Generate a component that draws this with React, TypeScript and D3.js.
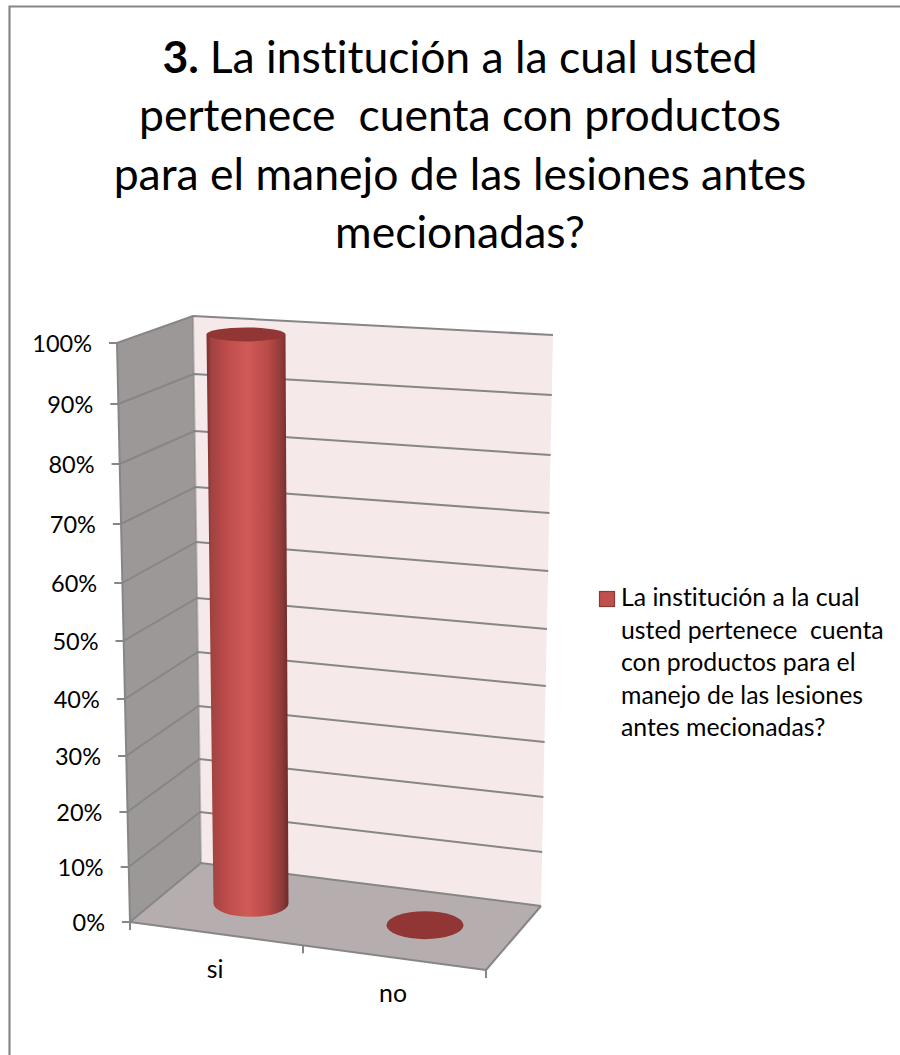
import React from "react";
import * as d3 from "d3";

const categories = ["si", "no"];
const shareValues = [100, 0];
const tickValues = [0, 10, 20, 30, 40, 50, 60, 70, 80, 90, 100];
const tickLabels = ["0%", "10%", "20%", "30%", "40%", "50%", "60%", "70%", "80%", "90%", "100%"];
const titleLines = [
  "La institución a la cual usted",
  "pertenece  cuenta con productos",
  "para el manejo de las lesiones antes",
  "mecionadas?",
];
const legendLines = [
  "La institución a la cual",
  "usted pertenece  cuenta",
  "con productos para el",
  "manejo de las lesiones",
  "antes mecionadas?",
];

// Perspective foreshortens the height axis, so each wall edge has its own stops.
const frontY = d3.scaleLinear().domain(tickValues).range([922, 867, 812, 756, 699, 641, 583, 524, 464, 404, 343]);
const backLeftY = d3.scaleLinear().domain(tickValues).range([863, 812, 759, 706, 652, 598, 542, 487, 431, 374, 316]);
const backRightY = d3.scaleLinear().domain(tickValues).range([906, 852, 797, 742, 686, 629, 571, 513, 455, 395, 335]);
const frontX = d3.scaleLinear().domain([0, 100]).range([130, 117]);
const backLeftX = d3.scaleLinear().domain([0, 100]).range([201, 193]);
const backRightX = d3.scaleLinear().domain([0, 100]).range([541, 553]);

// Category position along the floor: 0..1 across its width.
const band = d3.scaleBand().domain(categories).range([0, 1]);
const floorFront = { x: d3.scaleLinear().range([130, 486]), y: d3.scaleLinear().range([922, 970]) };
const floorMid = { x: d3.scaleLinear().range([164, 512]), y: d3.scaleLinear().range([892.5, 936]) };
// The divider between categories sits a little left of the midpoint in perspective.
const floorTicks = [0, 0.486, 1];

// Cylinder geometry by value.
const barHeight = d3.scaleLinear().domain([0, 100]).range([0, 569]);
const barLean = d3.scaleLinear().domain([0, 100]).range([0, -5]);
const barRx = d3.scaleLinear().domain([0, 100]).range([37.5, 39.5]);
const barRy = d3.scaleLinear().domain([0, 100]).range([13.5, 7]);

const titleY = d3.scaleLinear().domain([0, 3]).range([73, 248]);
const legendY = d3.scaleLinear().domain([0, 4]).range([606, 736]);

const centre = (c: string) => (band(c) as number) + band.bandwidth() / 2;
const wallPath = (pts: number[][]) => d3.line()(pts as [number, number][]) + "Z";

const GRID = "#868686";
const FONT = "Lato, 'Open Sans', sans-serif";

export default function App() {
  return (
    <svg
      width={900}
      height={1055}
      viewBox="0 0 900 1055"
      style={{ position: "absolute", left: 0, top: 0, fontVariantLigatures: "none" }}
      fontFamily={FONT}
    >
      <defs>
        <linearGradient id="cyl" x1="0" x2="1" y1="0" y2="0">
          <stop offset="0" stopColor="#7c2f2d" />
          <stop offset="0.06" stopColor="#a04341" />
          <stop offset="0.25" stopColor="#bf4c4b" />
          <stop offset="0.5" stopColor="#d05a58" />
          <stop offset="0.75" stopColor="#ba4a48" />
          <stop offset="0.92" stopColor="#8c3a38" />
          <stop offset="1" stopColor="#6c2a29" />
        </linearGradient>
      </defs>

      <rect x={0} y={0} width={900} height={1055} fill="#ffffff" />
      <path d="M9.5 1055V6.5H900" fill="none" stroke="#868686" strokeWidth={2.2} />

      <text textAnchor="middle" fontSize={44.5} fill="#000" style={{ whiteSpace: "pre" }}>
        {titleLines.map((line, i) => (
          <tspan key={i} x={460} y={titleY(i)}>
            {i === 0 && <tspan fontWeight={700}>3. </tspan>}
            {line}
          </tspan>
        ))}
      </text>

      {/* Walls and floor */}
      <path
        d={wallPath([
          [backLeftX(100), backLeftY(100)],
          [backRightX(100), backRightY(100)],
          [backRightX(0), backRightY(0)],
          [backLeftX(0), backLeftY(0)],
        ])}
        fill="#f5e9e9"
      />
      <path
        d={wallPath([
          [frontX(100), frontY(100)],
          [backLeftX(100), backLeftY(100)],
          [backLeftX(0), backLeftY(0)],
          [frontX(0), frontY(0)],
        ])}
        fill="#9c9897"
      />
      <path
        d={wallPath([
          [frontX(0), frontY(0)],
          [backLeftX(0), backLeftY(0)],
          [backRightX(0), backRightY(0)],
          [floorFront.x(1), floorFront.y(1)],
        ])}
        fill="#b6aeae"
      />

      {/* Gridlines, edges and height ticks */}
      {tickValues.map((v) => (
        <g key={v} fill="none" stroke={GRID} strokeWidth={2}>
          <path
            d={
              d3.line()([
                [frontX(v), frontY(v)],
                [backLeftX(v), backLeftY(v)],
                [backRightX(v), backRightY(v)],
              ]) as string
            }
          />
          <line x1={frontX(v) - 8} x2={frontX(v)} y1={frontY(v)} y2={frontY(v)} />
        </g>
      ))}
      <g fill="none" stroke={GRID} strokeWidth={2}>
        <line x1={frontX(100)} y1={frontY(100)} x2={frontX(0)} y2={frontY(0)} />
        <line x1={backLeftX(100)} y1={backLeftY(100)} x2={backLeftX(0)} y2={backLeftY(0)} strokeOpacity={0.5} />
        <line x1={floorFront.x(1)} y1={floorFront.y(1)} x2={backRightX(0)} y2={backRightY(0)} />
        <line x1={frontX(0)} y1={frontY(0)} x2={floorFront.x(1)} y2={floorFront.y(1)} />
        {floorTicks.map((t) => (
          <line
            key={t}
            x1={floorFront.x(t)}
            x2={floorFront.x(t)}
            y1={floorFront.y(t)}
            y2={floorFront.y(t) + 8}
          />
        ))}
      </g>

      {tickValues.map((v, i) => (
        <text key={v} x={frontX(v) - 25} y={frontY(v) + 9} textAnchor="end" fontSize={23.5} fill="#000">
          {tickLabels[i]}
        </text>
      ))}

      {/* Cylinders, one per category */}
      {categories.map((c, i) => {
        const value = shareValues[i];
        const cx = floorMid.x(centre(c));
        const cy = floorMid.y(centre(c));
        if (value === 0) {
          return <ellipse key={c} cx={cx} cy={cy} rx={barRx(0) + 1} ry={barRy(0) + 0.5} fill="#923635" />;
        }
        const topX = cx + barLean(value);
        const topY = cy - barHeight(value);
        const rb = barRx(0);
        const rt = barRx(value);
        const body =
          `M${topX - rt} ${topY}L${cx - rb} ${cy}` +
          `A${rb} ${barRy(0)} 0 0 0 ${cx + rb} ${cy}` +
          `L${topX + rt} ${topY}Z`;
        return (
          <g key={c}>
            <path d={body} fill="url(#cyl)" />
            <ellipse cx={topX} cy={topY} rx={rt} ry={barRy(value)} fill="#923635" />
          </g>
        );
      })}

      {categories.map((c) => (
        <text
          key={c}
          x={floorFront.x(centre(c)) - 4}
          y={floorFront.y(centre(c)) + 43.5}
          textAnchor="middle"
          fontSize={24.8}
          fill="#000"
        >
          {c}
        </text>
      ))}

      {/* Legend */}
      <rect x={599.5} y={591.5} width={15} height={15} fill="#c0504d" stroke="#8c3836" strokeWidth={1.2} />
      <text fontSize={24.8} fill="#000" style={{ whiteSpace: "pre" }}>
        {legendLines.map((line, i) => (
          <tspan key={i} x={621} y={legendY(i)}>
            {line}
          </tspan>
        ))}
      </text>
    </svg>
  );
}
